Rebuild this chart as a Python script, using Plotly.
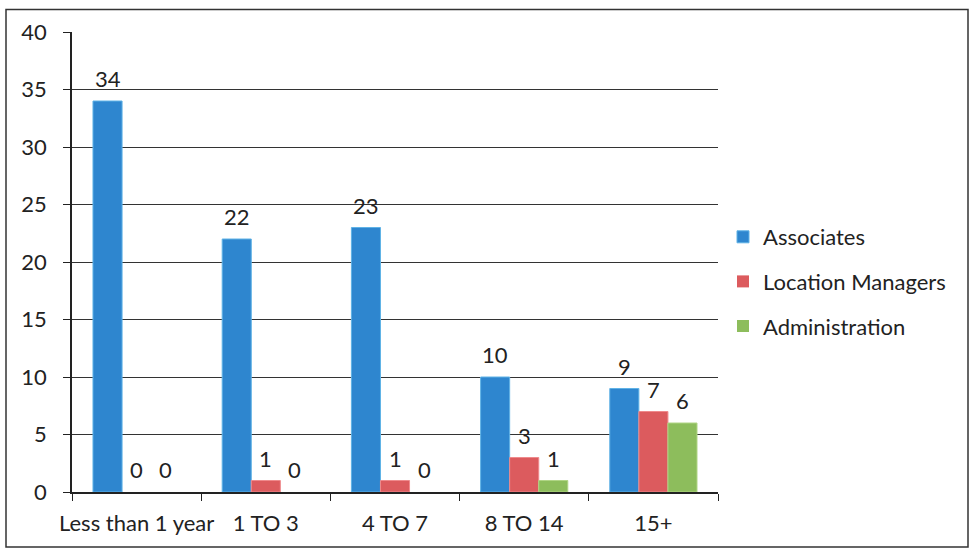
import plotly.graph_objects as go

# Years-of-service buckets and head counts per staff group
categories = ["Less than 1 year", "1 TO 3", "4 TO 7", "8 TO 14", "15+"]
associates = [34, 22, 23, 10, 9]
location_managers = [0, 1, 1, 3, 7]
administration = [0, 0, 0, 1, 6]
y_ticks = [0, 5, 10, 15, 20, 25, 30, 35, 40]

series = [
    ("Associates", associates, "#2e86cf", "#5fb2e6"),
    ("Location Managers", location_managers, "#dc5b5e", "#ef8a8c"),
    ("Administration", administration, "#8dbd5c", "#b0d585"),
]

FONT = "Lato, 'Open Sans', sans-serif"
FS = 22
BAR_PX = 29  # rendered width of one bar in the group

fig = go.Figure()
for i, (name, vals, color, edge) in enumerate(series):
    fig.add_trace(go.Bar(
        x=categories, y=vals, name=name, legendgroup=name,
        marker=dict(color=color,
                    line=dict(color=edge, width=[1 if v else 0 for v in vals])),
    ))
    # value labels above each bar
    for cat, v in zip(categories, vals):
        fig.add_annotation(
            x=cat, y=v, text=str(v), showarrow=False,
            xshift=(i - 1) * BAR_PX, yshift=7, yanchor="bottom",
            font=dict(family=FONT, size=FS, color="#222"),
        )

# outer frame around the whole chart
fig.add_shape(type="rect", xref="paper", yref="paper",
              x0=-66 / 646, x1=896 / 646, y0=-55 / 460.5, y1=483 / 460.5,
              line=dict(color="#333", width=1.5), fillcolor="rgba(0,0,0,0)")

fig.update_layout(
    width=973, height=550,
    margin=dict(l=72, r=255, t=31.5, b=58, autoexpand=False),
    paper_bgcolor="white", plot_bgcolor="white",
    barmode="group", bargap=0.325, bargroupgap=0,
    font=dict(family=FONT, size=FS, color="#222"),
    showlegend=True,
    legend=dict(
        xref="container", yref="container",
        x=723 / 973, y=1 - 216 / 550, xanchor="left", yanchor="top",
        font=dict(family=FONT, size=FS, color="#222"),
        tracegroupgap=13, bgcolor="rgba(0,0,0,0)",
        itemwidth=30,
    ),
    xaxis=dict(
        type="category", tickson="boundaries", ticks="outside", ticklen=7,
        tickcolor="#222", showline=True, linecolor="#222", linewidth=1.5,
        showgrid=False, ticklabelstandoff=11, tickangle=0, automargin=False,
    ),
    yaxis=dict(
        range=[0, 40], tickvals=y_ticks, ticks="outside", ticklen=7,
        tickcolor="#222", showline=True, linecolor="#222", linewidth=1.5,
        showgrid=True, gridcolor="#333", gridwidth=1, zeroline=False,
        ticklabelstandoff=12, automargin=False,
    ),
)

fig.write_html("out.html")
